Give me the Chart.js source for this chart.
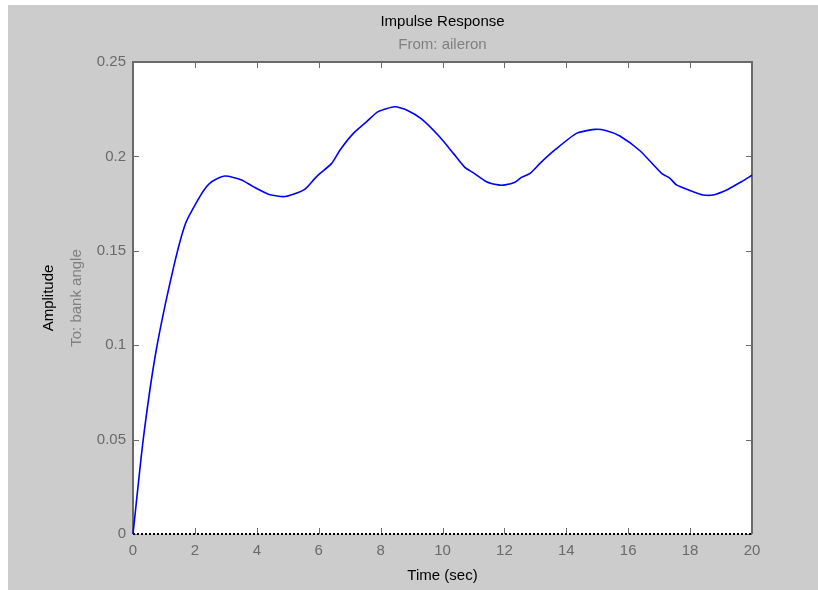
<!DOCTYPE html>
<html>
<head>
<meta charset="utf-8">
<script src="https://cdn.jsdelivr.net/npm/chart.js@4"></script>
<style>
  html, body { margin: 0; padding: 0; background: #ffffff; }
  #wrap { width: 818px; height: 590px; }
</style>
</head>
<body>
<div id="wrap"><canvas id="chart" width="818" height="590"></canvas></div>
<script>
// values
const time = [0, 0.33, 0.74, 1.29, 1.70, 2.16, 2.38, 2.54, 2.97, 3.51, 3.88, 4.37, 4.86, 5.18, 5.56,
  5.93, 6.42, 6.69, 7.12, 7.55, 7.92, 8.46, 8.84, 9.33, 9.92, 10.35, 10.72, 10.99, 11.42, 11.80,
  12.02, 12.34, 12.56, 12.83, 13.15, 13.63, 14.33, 14.92, 15.30, 15.73, 16.38, 17.08, 17.35,
  17.56, 18.10, 18.42, 18.75, 19.18, 19.66, 20.0];
const amplitude = [0, 0.050, 0.0964, 0.1398, 0.1646, 0.1787, 0.1840, 0.1866, 0.1896, 0.1875, 0.1840,
  0.1800, 0.1787, 0.1800, 0.1827, 0.1893, 0.1963, 0.2034, 0.2122, 0.2184, 0.2237, 0.2263, 0.2246,
  0.2197, 0.2101, 0.2016, 0.1942, 0.1914, 0.1866, 0.1849, 0.1849, 0.1863, 0.1890, 0.1910, 0.1963,
  0.2034, 0.2122, 0.2143, 0.2136, 0.2108, 0.2030, 0.1910, 0.1884, 0.1849, 0.1813, 0.1796, 0.1796,
  0.1822, 0.1866, 0.1900];
const zeroTime = [0, 20];
const zeroLevel = [0, 0];
const xTicks = [0, 2, 4, 6, 8, 10, 12, 14, 16, 18, 20];
const yTicks = [0, 0.05, 0.1, 0.15, 0.2, 0.25];

const labelFont = { family: 'Liberation Sans, Arial, sans-serif', size: 15 };

const figureBack = {
    id: 'figureBack',
    beforeDraw(chart) {
        const ctx = chart.ctx;
        const a = chart.chartArea;
        ctx.save();
        ctx.fillStyle = '#ffffff';
        ctx.fillRect(0, 0, chart.width, chart.height);
        ctx.fillStyle = '#cccccc';
        ctx.fillRect(8, 5, chart.width - 8, chart.height - 5);
        ctx.fillStyle = '#ffffff';
        ctx.fillRect(a.left, a.top, a.right - a.left, a.bottom - a.top);
        ctx.restore();
    },
    beforeDatasetsDraw(chart) {
        // axes box with inward ticks
        const ctx = chart.ctx;
        const a = chart.chartArea;
        const xs = chart.scales.x, ys = chart.scales.y;
        ctx.save();
        ctx.strokeStyle = '#6a6a6a';
        ctx.lineWidth = 2;
        ctx.beginPath();
        ctx.moveTo(a.left, a.bottom);
        ctx.lineTo(a.left, a.top);
        ctx.lineTo(a.right, a.top);
        ctx.lineTo(a.right, a.bottom);
        ctx.stroke();
        ctx.lineWidth = 1;
        ctx.beginPath();
        xTicks.forEach(v => {
            const px = Math.round(xs.getPixelForValue(v)) + 0.5;
            ctx.moveTo(px, a.top);
            ctx.lineTo(px, a.top + 6);
            ctx.moveTo(px, a.bottom);
            ctx.lineTo(px, a.bottom - 6);
        });
        yTicks.forEach(v => {
            const py = Math.round(ys.getPixelForValue(v)) + 0.5;
            ctx.moveTo(a.left, py);
            ctx.lineTo(a.left + 6, py);
            ctx.moveTo(a.right, py);
            ctx.lineTo(a.right - 6, py);
        });
        ctx.stroke();
        ctx.restore();
    },
    afterDraw(chart) {
        const ctx = chart.ctx;
        const a = chart.chartArea;
        ctx.save();
        ctx.translate(77, (a.top + a.bottom) / 2);
        ctx.rotate(-Math.PI / 2);
        ctx.font = '15px Liberation Sans, Arial, sans-serif';
        ctx.fillStyle = '#808080';
        ctx.textAlign = 'center';
        ctx.textBaseline = 'middle';
        ctx.fillText('To: bank angle', 0, 0);
        ctx.restore();
    }
};

const data = {
    datasets: [{
        data: time.map((t, i) => ({ x: t, y: amplitude[i] })),
        borderColor: '#0000ff',
        borderWidth: 1.6,
        pointRadius: 0,
        tension: 0.2,
        fill: false,
        clip: 3,
        order: 1
    }, {
        data: zeroTime.map((t, i) => ({ x: t, y: zeroLevel[i] })),
        borderColor: '#000000',
        borderWidth: 2,
        borderDash: [2, 2],
        pointRadius: 0,
        fill: false,
        clip: 3,
        order: 2
    }]
};

const config = {
    type: 'line',
    data: data,
    plugins: [figureBack],
    options: {
        responsive: false,
        animation: false,
        layout: { padding: { left: 0, right: 66, top: 0, bottom: 0 } },
        scales: {
            x: {
                type: 'linear',
                min: 0,
                max: 20,
                afterBuildTicks: s => { s.ticks = xTicks.map(v => ({ value: v })); },
                afterFit: s => { s.height = 56; },
                grid: { display: false, drawTicks: false },
                border: { display: false },
                ticks: { color: '#6a6a6a', font: labelFont, padding: 8, maxRotation: 0 },
                title: {
                    display: true,
                    text: 'Time (sec)',
                    color: '#000000',
                    font: labelFont,
                    padding: { top: 0, bottom: 5 }
                }
            },
            y: {
                min: 0,
                max: 0.25,
                afterBuildTicks: s => { s.ticks = yTicks.map(v => ({ value: v })); },
                afterFit: s => { s.width = 133; },
                grid: { display: false, drawTicks: false },
                border: { display: false },
                ticks: { color: '#6a6a6a', font: labelFont, padding: 7, callback: v => String(v) },
                title: {
                    display: true,
                    text: 'Amplitude',
                    color: '#000000',
                    font: labelFont,
                    padding: { top: 40, bottom: 0 }
                }
            },
        },
        plugins: {
            legend: { display: false },
            tooltip: { enabled: false },
            title: {
                display: true,
                fullSize: false,
                text: 'Impulse Response',
                color: '#000000',
                font: { family: 'Liberation Sans, Arial, sans-serif', size: 15, weight: 'normal' },
                padding: { top: 13, bottom: 4 }
            },
            subtitle: {
                display: true,
                fullSize: false,
                text: 'From: aileron',
                color: '#808080',
                font: labelFont,
                padding: { top: 1, bottom: 8 }
            }
        }
    },
};

var myChart = new Chart(
    document.getElementById('chart').getContext('2d'),
    config
);
</script>
</body>
</html>
